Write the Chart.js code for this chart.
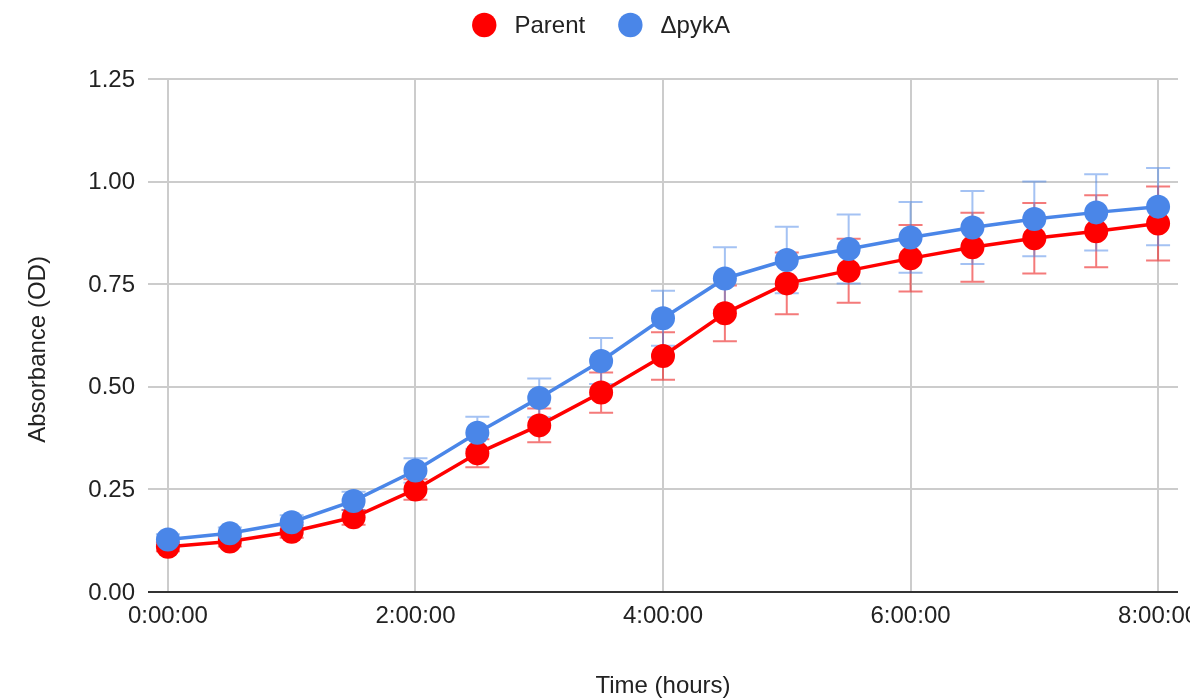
<!DOCTYPE html>
<html>
<head>
<meta charset="utf-8">
<title>Growth curve: Parent vs ΔpykA</title>
<script src="https://cdn.jsdelivr.net/npm/chart.js@4.4.1/dist/chart.umd.min.js"></script>
<style>
  html, body { margin: 0; padding: 0; background: #ffffff; overflow: hidden; }
  #wrap { width: 1190px; height: 699px; }
</style>
</head>
<body>
<div id="wrap"><canvas id="growth" width="1190" height="699"></canvas></div>
<script>
// Sampling times (hours)
const hours = [0, 0.5, 1, 1.5, 2, 2.5, 3, 3.5, 4, 4.5, 5, 5.5, 6, 6.5, 7, 7.5, 8];

// Parent strain: mean absorbance and error
const parentOD  = [0.110, 0.123, 0.147, 0.182, 0.250, 0.338, 0.406, 0.486, 0.575, 0.679, 0.752, 0.783, 0.813, 0.840, 0.862, 0.879, 0.898];
const parentErr = [0.011, 0.012, 0.015, 0.018, 0.025, 0.034, 0.041, 0.049, 0.058, 0.068, 0.075, 0.078, 0.081, 0.084, 0.086, 0.088, 0.090];

// ΔpykA strain: mean absorbance and error
const pykaOD  = [0.128, 0.143, 0.170, 0.222, 0.296, 0.388, 0.473, 0.563, 0.667, 0.764, 0.809, 0.836, 0.864, 0.888, 0.909, 0.925, 0.939];
const pykaErr = [0.013, 0.014, 0.017, 0.022, 0.030, 0.039, 0.047, 0.056, 0.067, 0.076, 0.081, 0.084, 0.086, 0.089, 0.091, 0.093, 0.094];

// Axis ticks
const xTickHours  = [0, 2, 4, 6, 8];
const xTickLabels = ['0:00:00', '2:00:00', '4:00:00', '6:00:00', '8:00:00'];
const yTickValues = [0, 0.25, 0.5, 0.75, 1, 1.25];
const yTickLabels = ['0.00', '0.25', '0.50', '0.75', '1.00', '1.25'];

const seriesNames = ['Parent', 'ΔpykA'];
const xTitle = 'Time (hours)';
const yTitle = 'Absorbance (OD)';

const FONT = '24px "Liberation Sans", Arial, Helvetica, sans-serif';
const TEXT = '#222222';
const RED = '#ff0000';
const BLUE = '#4a86e8';

const toPoints = (ys) => hours.map((h, i) => ({ x: h, y: ys[i] }));

// Error bars drawn beneath the lines and markers
const errorBars = {
  id: 'errorBars',
  beforeDatasetsDraw(chart) {
    const { ctx, scales: { x, y } } = chart;
    ctx.save();
    chart.data.datasets.forEach((ds) => {
      if (!ds.errors) return;
      ctx.strokeStyle = ds.errorColor;
      ctx.lineWidth = 2;
      ds.data.forEach((p, i) => {
        const e = ds.errors[i];
        const px = x.getPixelForValue(p.x);
        const top = y.getPixelForValue(p.y + e);
        const bot = y.getPixelForValue(p.y - e);
        ctx.beginPath();
        ctx.moveTo(px, top); ctx.lineTo(px, bot);
        ctx.moveTo(px - 12, top); ctx.lineTo(px + 12, top);
        ctx.moveTo(px - 12, bot); ctx.lineTo(px + 12, bot);
        ctx.stroke();
      });
    });
    ctx.restore();
  }
};

// Tick labels, axis titles and legend
const decorations = {
  id: 'decorations',
  afterDraw(chart) {
    const { ctx, scales: { x, y }, chartArea } = chart;
    ctx.save();
    ctx.font = FONT;
    ctx.fillStyle = TEXT;

    // y tick labels
    ctx.textAlign = 'right';
    ctx.textBaseline = 'middle';
    yTickValues.forEach((v, i) => {
      ctx.fillText(yTickLabels[i], chartArea.left - 13, y.getPixelForValue(v) + 1);
    });

    // x tick labels
    ctx.textAlign = 'center';
    xTickHours.forEach((v, i) => {
      ctx.fillText(xTickLabels[i], x.getPixelForValue(v), chartArea.bottom + 24);
    });

    // axis titles
    ctx.fillText(xTitle, (chartArea.left + chartArea.right) / 2, 686);
    ctx.save();
    ctx.translate(38, chart.height / 2);
    ctx.rotate(-Math.PI / 2);
    ctx.fillText(yTitle, 0, 0);
    ctx.restore();

    // legend
    const r = 12.2, gapText = 18, gapItem = 33;
    const items = chart.data.datasets.map((ds) => ({
      label: ds.label, color: ds.borderColor, w: ctx.measureText(ds.label).width
    }));
    const total = items.reduce((s, it) => s + 2 * r + gapText + it.w, 0) + gapItem * (items.length - 1);
    let cx = chart.width / 2 + 6 - total / 2;
    const cy = 25;
    ctx.textAlign = 'left';
    items.forEach((it) => {
      ctx.fillStyle = it.color;
      ctx.beginPath();
      ctx.arc(cx + r, cy, r, 0, Math.PI * 2);
      ctx.fill();
      ctx.fillStyle = TEXT;
      ctx.fillText(it.label, cx + 2 * r + gapText, cy + 1);
      cx += 2 * r + gapText + it.w + gapItem;
    });
    ctx.restore();
  }
};

new Chart(document.getElementById('growth'), {
  type: 'line',
  data: {
    datasets: [
      {
        label: seriesNames[0],
        data: toPoints(parentOD),
        errors: parentErr,
        errorColor: 'rgba(238, 40, 40, 0.62)',
        borderColor: RED,
        backgroundColor: RED,
        pointBackgroundColor: RED,
        borderWidth: 3.5,
        pointRadius: 12,
        pointHoverRadius: 12,
        pointBorderWidth: 0,
        tension: 0,
        order: 1
      },
      {
        label: seriesNames[1],
        data: toPoints(pykaOD),
        errors: pykaErr,
        errorColor: 'rgba(74, 134, 232, 0.5)',
        borderColor: BLUE,
        backgroundColor: BLUE,
        pointBackgroundColor: BLUE,
        borderWidth: 3.5,
        pointRadius: 12,
        pointHoverRadius: 12,
        pointBorderWidth: 0,
        tension: 0,
        order: 0
      }
    ]
  },
  options: {
    responsive: false,
    animation: false,
    devicePixelRatio: 1,
    layout: { padding: { left: 148, right: 10, top: 79, bottom: 107 } },
    plugins: { legend: { display: false }, tooltip: { enabled: false } },
    scales: {
      x: {
        type: 'linear',
        min: -0.161,
        max: 8.161,
        afterBuildTicks: (s) => { s.ticks = xTickHours.map((v) => ({ value: v })); },
        ticks: { display: false },
        grid: { color: '#cccccc', lineWidth: 2, drawTicks: false },
        border: { display: false }
      },
      y: {
        type: 'linear',
        min: 0,
        max: 1.25,
        afterBuildTicks: (s) => { s.ticks = yTickValues.map((v) => ({ value: v })); },
        ticks: { display: false },
        grid: {
          color: (c) => (c.tick && c.tick.value === 0 ? '#333333' : '#cccccc'),
          lineWidth: 2,
          drawTicks: false
        },
        border: { display: false }
      }
    }
  },
  plugins: [errorBars, decorations]
});
</script>
</body>
</html>
